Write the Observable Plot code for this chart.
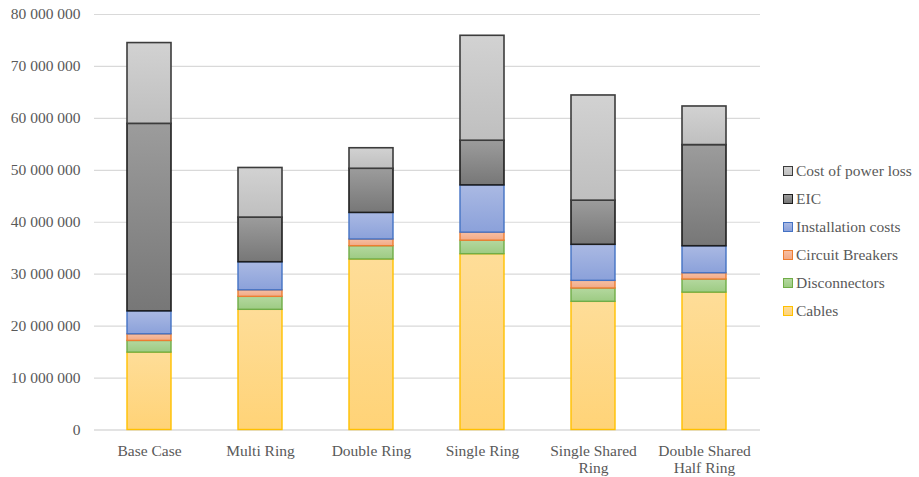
<!DOCTYPE html>
<html>
<head>
<meta charset="utf-8">
<script src="https://cdn.jsdelivr.net/npm/d3@7"></script>
<script src="https://cdn.jsdelivr.net/npm/@observablehq/plot@0.6"></script>
<style>
  html, body { margin: 0; padding: 0; background: #fff; }
  #wrap { position: relative; width: 919px; height: 477px; font-family: 'Liberation Serif', 'Times New Roman', serif; }
  #legend { position: absolute; left: 783px; top: 157px; color: #595959; font-size: 15.5px; }
  #legend .row { display: flex; align-items: center; height: 28px; white-space: nowrap; }
  #legend .sw { width: 10px; height: 10px; box-sizing: border-box; border: 1px solid; margin-right: 3px; }
</style>
</head>
<body>
<div id="wrap"><div id="legend"></div></div>
<script>
const categories = ["Base Case", "Multi Ring", "Double Ring", "Single Ring", "Single Shared Ring", "Double Shared Half Ring"];
const tickLabels = ["Base Case", "Multi Ring", "Double Ring", "Single Ring", "Single Shared\nRing", "Double Shared\nHalf Ring"];
const seriesNames = ["Cables", "Disconnectors", "Circuit Breakers", "Installation costs", "EIC", "Cost of power loss"];

const cables            = [14900000, 23140000, 32830000, 33850000, 24680000, 26450000];
const disconnectors     = [ 2250000,  2500000,  2560000,  2600000,  2560000,  2520000];
const circuitBreakers   = [ 1280000,  1260000,  1290000,  1550000,  1480000,  1210000];
const installationCosts = [ 4420000,  5400000,  5120000,  9100000,  6940000,  5200000];
const eic               = [36100000,  8600000,  8500000,  8600000,  8500000, 19480000];
const costOfPowerLoss   = [15550000,  9550000,  3950000, 20200000, 20250000,  7430000];

const yTicks = [0, 10000000, 20000000, 30000000, 40000000, 50000000, 60000000, 70000000, 80000000];

const seriesValues = [cables, disconnectors, circuitBreakers, installationCosts, eic, costOfPowerLoss];
const styles = [
  {id: "g-cab", top: "#FEDD98", bottom: "#FFD377", stroke: "#FFC000"},
  {id: "g-dis", top: "#B4D89F", bottom: "#9DCB83", stroke: "#70AD47"},
  {id: "g-cb",  top: "#F7BFA3", bottom: "#F2AA86", stroke: "#ED7D31"},
  {id: "g-ins", top: "#AAB9E3", bottom: "#8BA1DA", stroke: "#4472C4"},
  {id: "g-eic", top: "#9C9C9C", bottom: "#777777", stroke: "#1E1E1E"},
  {id: "g-los", top: "#D2D2D2", bottom: "#BFBFBF", stroke: "#3C3C3C"}
];

// stacked table built from the arrays
const rows = [];
categories.forEach((c, i) => {
  let acc = 0;
  seriesValues.forEach((vals, s) => {
    rows.push({cat: c, series: seriesNames[s], s, y1: acc, y2: acc + vals[i]});
    acc += vals[i];
  });
});

const fmt = d => d3.format(",")(d).replace(/,/g, " ");

const svg = Plot.plot({
  width: 919,
  height: 477,
  marginTop: 14,
  marginBottom: 47.5,
  marginLeft: 94,
  marginRight: 159,
  style: {fontFamily: "'Liberation Serif', 'Times New Roman', serif", fontSize: "15.5px", color: "#595959", background: "transparent"},
  x: {domain: categories, paddingInner: 0.6, paddingOuter: 0.3, label: null},
  y: {domain: [0, 80000000], label: null},
  marks: [
    Plot.gridY(yTicks, {stroke: "#d9d9d9", strokeOpacity: 1, strokeWidth: 1.2}),
    Plot.ruleY([0], {stroke: "#d9d9d9", strokeWidth: 1.2}),
    ...seriesNames.map((name, s) =>
      Plot.barY(rows.filter(r => r.s === s), {
        x: "cat", y1: "y1", y2: "y2",
        fill: `url(#${styles[s].id})`,
        stroke: styles[s].stroke,
        strokeWidth: s >= 4 ? 1.6 : 1.4
      })
    ),
    Plot.axisY(yTicks, {tickSize: 0, tickPadding: 14, tickFormat: fmt, label: null, fill: "#595959"}),
    Plot.axisX({tickSize: 0, tickPadding: 14, tickFormat: d => tickLabels[categories.indexOf(d)], lineHeight: 1.1, label: null, fill: "#595959"})
  ]
});

const defs = d3.select(svg).insert("defs", ":first-child");
styles.forEach(st => {
  const g = defs.append("linearGradient").attr("id", st.id).attr("x1", 0).attr("y1", 0).attr("x2", 0).attr("y2", 1);
  g.append("stop").attr("offset", "0%").attr("stop-color", st.top);
  g.append("stop").attr("offset", "100%").attr("stop-color", st.bottom);
});

const wrap = document.getElementById("wrap");
wrap.insertBefore(svg, wrap.firstChild);

const legend = d3.select("#legend");
for (let s = seriesNames.length - 1; s >= 0; s--) {
  const row = legend.append("div").attr("class", "row");
  row.append("div").attr("class", "sw")
    .style("border-color", styles[s].stroke)
    .style("background", `linear-gradient(${styles[s].top}, ${styles[s].bottom})`);
  row.append("span").text(seriesNames[s]);
}
</script>
</body>
</html>
